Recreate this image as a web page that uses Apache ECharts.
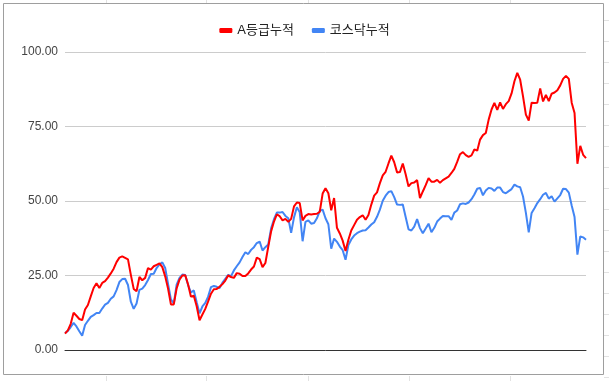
<!DOCTYPE html>
<html><head><meta charset="utf-8">
<script src="https://cdn.jsdelivr.net/npm/echarts@6/dist/echarts.min.js"></script>
<style>html,body{margin:0;padding:0;background:#fff}#c{width:609px;height:381px}</style>
</head><body><div id="c"></div>
<script>
var seriesNames = ['A등급누적', '코스닥누적'];
var yTicks = [0, 25, 50, 75, 100];
var gradeA = [
5.5,6.6,8.8,12.5,11.5,10.4,10.0,13.6,15.1,18.0,
20.8,22.4,20.8,22.5,23.1,24.3,25.7,27.3,29.5,31.0,
31.4,30.9,30.4,25.2,20.5,19.7,24.5,23.4,24.2,27.5,
27.0,28.1,28.6,29.1,27.8,24.7,20.6,15.3,15.3,20.7,
23.6,25.0,25.1,22.0,17.9,18.2,14.7,10.0,11.9,13.8,
16.3,18.9,20.4,20.5,21.2,22.1,23.3,25.0,24.5,24.2,
25.8,25.6,24.8,24.8,25.7,27.0,28.0,31.0,30.5,27.8,
29.2,34.6,39.8,43.1,45.5,44.9,43.5,44.0,43.0,44.0,
48.2,49.5,49.3,43.5,45.0,45.6,45.5,45.6,45.7,46.4,
52.5,54.3,52.6,46.9,51.0,41.0,39.1,36.7,33.2,37.0,
40.1,41.9,43.7,44.6,45.2,43.7,45.3,48.8,51.8,52.9,
56.0,58.6,59.8,62.6,65.2,63.0,59.6,59.7,62.6,59.0,
54.9,56.0,56.2,57.0,51.0,53.2,55.3,57.7,56.5,56.5,
57.1,56.1,57.0,57.6,58.2,59.4,60.8,63.1,65.7,66.4,
65.4,64.8,65.3,67.3,66.9,70.6,72.1,72.8,77.3,80.7,
82.9,80.6,83.1,80.9,82.5,83.5,86.1,90.2,93.0,90.7,
85.1,79.0,77.0,83.0,82.9,83.0,87.8,83.4,85.6,83.5,
86.0,86.4,87.2,88.8,91.0,92.0,91.0,83.0,79.5,62.5,
68.5,65.5,64.4
];
var kosdaq = [
5.7,6.4,7.7,9.1,7.9,6.3,4.8,8.4,9.8,11.1,
11.7,12.4,12.4,13.9,15.2,15.8,17.2,18.0,20.1,22.8,
23.8,23.9,21.8,16.2,13.8,15.6,20.2,20.6,21.8,23.5,
25.5,25.6,27.5,28.7,29.4,27.5,22.2,17.0,15.6,21.9,
24.2,25.3,25.2,21.8,19.3,20.0,16.0,12.3,14.6,15.8,
17.9,21.1,21.5,21.2,20.8,22.6,23.9,25.2,24.8,26.7,
28.1,29.4,31.2,32.8,32.2,33.6,34.5,35.9,36.4,33.4,
34.5,35.4,40.8,43.9,46.1,46.1,46.3,45.0,44.2,39.3,
44.5,47.9,46.2,36.5,43.0,43.5,42.4,42.6,44.2,46.7,
47.1,44.2,42.2,34.0,37.4,36.3,34.7,33.5,30.3,35.2,
37.1,38.4,39.2,39.7,40.1,40.2,41.1,42.1,42.9,44.7,
47.1,50.1,51.8,53.0,53.3,51.3,48.8,48.7,48.8,44.6,
40.5,40.1,41.4,43.9,40.9,39.2,40.8,42.4,39.5,41.0,
43.1,44.1,45.0,44.9,44.9,43.7,46.1,46.8,48.9,49.2,
49.0,49.5,50.6,52.2,54.1,54.4,51.9,53.5,54.4,54.2,
53.4,54.5,54.5,53.0,52.6,53.3,54.0,55.5,54.9,54.6,
51.5,46.0,39.5,46.0,47.6,49.3,50.6,52.1,52.7,50.8,
51.6,49.8,50.9,52.0,54.1,54.0,52.8,48.5,44.6,32.0,
38.1,37.8,37.0
];
var categories = gradeA.map(function (_, i) { return String(i + 1); });

var cellLine = '#e2e2e2';
var graphics = [];
[106, 206, 308, 409, 510].forEach(function (x) {
  graphics.push({type:'line', silent:true, z:-1, shape:{x1:x+0.5,y1:0,x2:x+0.5,y2:3}, style:{stroke:cellLine,lineWidth:1}});
  graphics.push({type:'line', silent:true, z:-1, shape:{x1:x+0.5,y1:376,x2:x+0.5,y2:381}, style:{stroke:cellLine,lineWidth:1}});
});
for (var y = 20; y < 381; y += 21) {
  graphics.push({type:'line', silent:true, z:-1, shape:{x1:604,y1:y+0.5,x2:609,y2:y+0.5}, style:{stroke:cellLine,lineWidth:1}});
}
graphics.push({type:'rect', silent:true, z:-1, shape:{x:3.5,y:3.5,width:600,height:371}, style:{fill:'#fff',stroke:'#9e9e9e',lineWidth:1}});

var chart = echarts.init(document.getElementById('c'), null, {renderer:'canvas'});
chart.setOption({
  animation: false,
  backgroundColor: '#fff',
  graphic: graphics,
  color: ['#ff0000', '#4285f4'],
  legend: {
    top: 19, left: 'center',
    data: seriesNames,
    icon: 'roundRect',
    itemWidth: 13, itemHeight: 5, itemGap: 18,
    textStyle: {fontSize: 13, color: '#222', fontFamily: '"Liberation Sans", "Noto Sans CJK KR", sans-serif'}
  },
  grid: {left: 65, right: 23, top: 52, bottom: 31, containLabel: false},
  xAxis: {
    type: 'category', data: categories, boundaryGap: false,
    axisLine: {show: true, lineStyle: {color: '#333', width: 1}},
    axisTick: {show: false}, axisLabel: {show: false}, splitLine: {show: false}
  },
  yAxis: {
    type: 'value', min: yTicks[0], max: yTicks[yTicks.length-1], interval: 25,
    axisLine: {show: false}, axisTick: {show: false},
    axisLabel: {formatter: function (v) { return v.toFixed(2); }, color: '#444', fontSize: 12, margin: 7,
      fontFamily: '"Liberation Sans", Arial, sans-serif'},
    splitLine: {lineStyle: {color: '#cccccc', width: 1}}
  },
  series: [
    {name: seriesNames[0], type: 'line', data: gradeA, showSymbol: false, lineStyle: {width: 2}, z: 3},
    {name: seriesNames[1], type: 'line', data: kosdaq, showSymbol: false, lineStyle: {width: 2}, z: 2}
  ]
});
</script></body></html>
